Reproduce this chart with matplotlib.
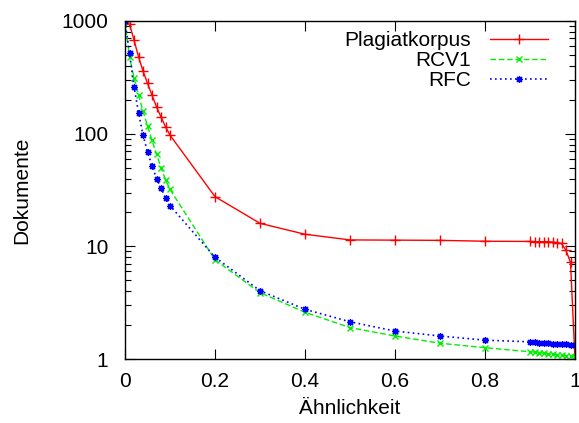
import numpy as np
import matplotlib.pyplot as plt

# similarity thresholds
similarity = [0.0, 0.01, 0.02, 0.03, 0.04, 0.05, 0.06, 0.07, 0.08, 0.09, 0.1,
              0.2, 0.3, 0.4, 0.5, 0.6, 0.7, 0.8, 0.9,
              0.91, 0.92, 0.93, 0.94, 0.95, 0.96, 0.97, 0.98, 0.99, 1.0]

# number of documents above threshold
plagiatkorpus = [1000, 940, 678, 482, 360, 280, 220, 173, 141, 115, 97,
                 27.6, 16.0, 12.8, 11.4, 11.35, 11.3, 11.1, 11.05,
                 11.0, 11.0, 11.0, 11.0, 10.9, 10.8, 10.6, 9.2, 7.2, 1.0]
rcv1 = [1000, 482, 314, 220, 158, 117, 87, 66, 50, 39, 32,
        7.6, 3.88, 2.6, 1.90, 1.60, 1.38, 1.26, 1.16,
        1.15, 1.14, 1.12, 1.11, 1.10, 1.09, 1.08, 1.07, 1.06, 1.04]
rfc = [1000, 517, 261, 154, 97, 69, 52, 40, 33, 27, 23,
       8.0, 4.04, 2.76, 2.14, 1.77, 1.60, 1.47, 1.42,
       1.41, 1.40, 1.39, 1.38, 1.37, 1.36, 1.35, 1.35, 1.34, 1.33]

plt.rcParams['font.family'] = ['Liberation Sans', 'DejaVu Sans']
plt.rcParams['font.size'] = 15

fig = plt.figure(figsize=(5.79, 4.23), dpi=100)
ax = fig.add_axes([125 / 579, 1 - 359 / 423, 450 / 579, 338 / 423])

ax.plot(similarity, plagiatkorpus, color='#ff0000', linestyle='-', linewidth=1,
        marker='+', markersize=7, markeredgewidth=1, label='Plagiatkorpus')
ax.plot(similarity, rcv1, color='#00ee00', linestyle=(0, (4, 2)), linewidth=1,
        marker='x', markersize=5, markeredgewidth=1, label='RCV1')
ax.plot(similarity, rfc, color='#0000ff', linestyle=(0, (1, 2)), linewidth=1.2,
        marker=(8, 2, 0), markersize=5, markeredgewidth=0.9, label='RFC')

ax.set_yscale('log')
ax.set_xlim(0, 1)
ax.set_ylim(1, 1000)
ax.set_xticks([0, 0.2, 0.4, 0.6, 0.8, 1])
ax.set_xticklabels(['0', '0.2', '0.4', '0.6', '0.8', '1'])
ax.set_yticks([1, 10, 100, 1000])
ax.set_yticklabels(['1', '10', '100', '1000'])
ax.tick_params(which='both', direction='in', top=True, right=True, width=0.8)
ax.tick_params(which='major', length=7)
ax.tick_params(which='minor', length=4)
ax.tick_params(axis='y', pad=12)
ax.tick_params(axis='x', pad=9)
for spine in ax.spines.values():
    spine.set_linewidth(1)

ax.set_xlabel('Ähnlichkeit', labelpad=6)
ax.set_ylabel('Dokumente', labelpad=22)

ax.legend(loc='upper right', bbox_to_anchor=(0.94, 0.97), frameon=False,
          markerfirst=False, handlelength=2.8, handletextpad=0.9,
          labelspacing=0.05, borderpad=0, borderaxespad=0)

plt.savefig('out.png', dpi=100)
